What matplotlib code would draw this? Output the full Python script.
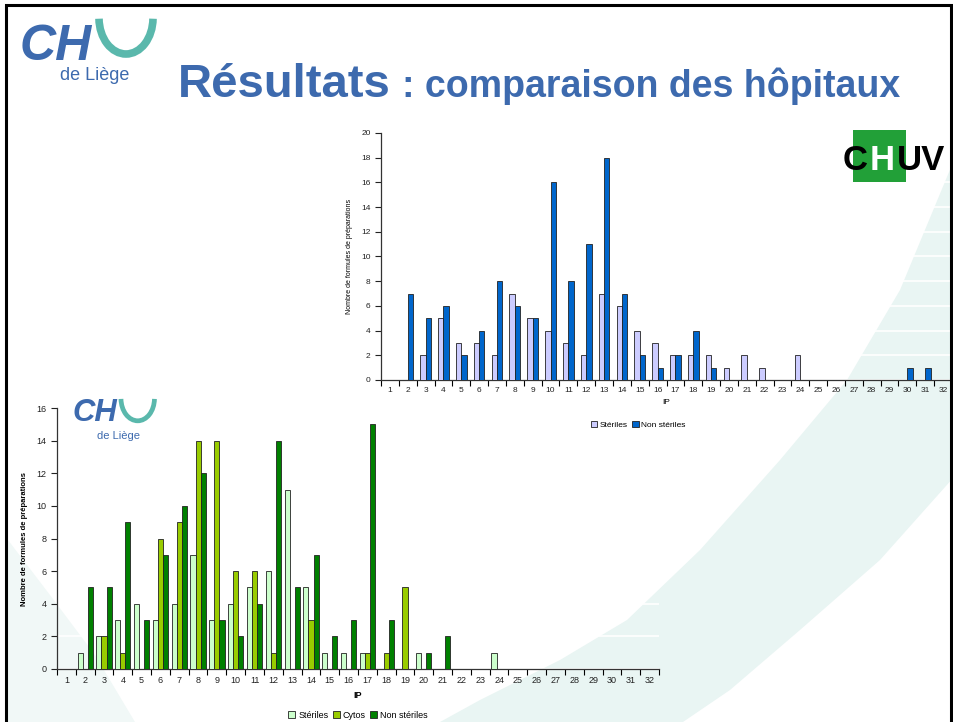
import matplotlib
matplotlib.use("Agg")
import matplotlib.pyplot as plt
import numpy as np
from matplotlib.patches import Polygon, Rectangle, Arc

plt.rcParams['font.family'] = ['Liberation Sans', 'DejaVu Sans']

# ---------------- data ----------------
ip = list(range(1, 33))
ip_labels = [str(i) for i in ip]

# CHUV (top chart)
chuv_steriles = [0, 0, 2, 5, 3, 3, 2, 7, 5, 4, 3, 2, 7, 6, 4, 3,
                 2, 2, 2, 1, 2, 1, 0, 2, 0, 0, 0, 0, 0, 0, 0, 0]
chuv_non_steriles = [0, 7, 5, 6, 2, 4, 8, 6, 5, 16, 8, 11, 18, 7, 2, 1,
                     2, 4, 1, 0, 0, 0, 0, 0, 0, 0, 0, 0, 0, 1, 1, 0]

# CHU de Liège (bottom chart)
liege_steriles = [0, 1, 2, 3, 4, 3, 4, 7, 3, 4, 5, 6, 11, 5, 1, 1,
                  1, 0, 0, 1, 0, 0, 0, 1, 0, 0, 0, 0, 0, 0, 0, 0]
liege_cytos = [0, 0, 2, 1, 0, 8, 9, 14, 14, 6, 6, 1, 0, 3, 0, 0,
               1, 1, 5, 0, 0, 0, 0, 0, 0, 0, 0, 0, 0, 0, 0, 0]
liege_non_steriles = [0, 5, 5, 9, 3, 7, 10, 12, 3, 2, 4, 14, 5, 7, 2, 3,
                      15, 3, 0, 1, 2, 0, 0, 0, 0, 0, 0, 0, 0, 0, 0, 0]

W, H = 954, 722
fig = plt.figure(figsize=(W / 100, H / 100), dpi=100)
fig.patch.set_facecolor('white')


def px(x, y):
    return (x / W, 1 - y / H)


# ---------------- background swoosh ----------------
band_color = '#e9f5f3'
upper = [(440, 722), (480, 700), (560, 660), (627, 620), (700, 550), (780, 460),
         (847, 380), (900, 290), (954, 160)]
lower = [(954, 477), (880, 560), (800, 630), (730, 690), (683, 722)]
fig.patches.append(Polygon([px(*p) for p in upper + lower], closed=True,
                           transform=fig.transFigure, facecolor=band_color,
                           edgecolor='none', zorder=-5))
fig.patches.append(Polygon([px(*p) for p in [(8, 540), (50, 595), (95, 655), (135, 722), (8, 722)]],
                           closed=True, transform=fig.transFigure, facecolor='#f1f8f7',
                           edgecolor='none', zorder=-5))

# slide border
fig.patches.append(Rectangle(px(6, 730), (951 - 6) / W, (730 - 5) / H,
                             transform=fig.transFigure, facecolor='none',
                             edgecolor='black', lw=2.2, zorder=5))

# ---------------- logos ----------------
blue = '#3d6aae'
teal = '#5ab8ac'


def chu_logo(x0, y0, s, ch_base, dl_base):
    fig.text(*px(x0, y0 + ch_base * s), 'CH', fontsize=36 * s, fontweight='bold',
             style='italic', color=blue, va='baseline', ha='left')
    cx, cy = px(x0 + 106 * s, y0 + 4 * s)
    fig.patches.append(Arc((cx, cy), 54 * s / W, 72 * s / H, theta1=182, theta2=358,
                           transform=fig.transFigure, color=teal, lw=5.5 * s))
    fig.text(*px(x0 + 40 * s, y0 + dl_base * s), 'de Liège', fontsize=13 * s,
             color=blue, va='baseline', ha='left')


chu_logo(20, 14, 1.0, 46, 66)
chu_logo(72, 396, 0.62, 40, 70)

# CHUV logo
fig.patches.append(Rectangle(px(853, 182), 53 / W, 52 / H, transform=fig.transFigure,
                             facecolor='#22a038', edgecolor='none', zorder=2))
fig.text(*px(843, 170), 'C', fontsize=25, fontweight='heavy', color='black',
         va='baseline', ha='left', zorder=3)
fig.text(*px(870, 170), 'H', fontsize=25, fontweight='heavy', color='white',
         va='baseline', ha='left', zorder=3)
fig.text(*px(897, 170), 'UV', fontsize=25, fontweight='heavy', color='black',
         va='baseline', ha='left', zorder=3)

# ---------------- title ----------------
fig.text(*px(178, 97), 'Résultats', fontsize=34, fontweight='bold', color=blue,
         va='baseline', ha='left')
fig.text(*px(402, 97), ': comparaison des hôpitaux', fontsize=27, fontweight='bold',
         color=blue, va='baseline', ha='left')

x = np.arange(1, 33)


def style_axes(ax, ymax, ystep, bold_labels, tick_fs, ylab_fs):
    ax.set_facecolor('none')
    ax.set_xlim(0.5, 32.5)
    ax.set_ylim(0, ymax)
    ax.set_yticks(np.arange(0, ymax + 1, ystep))
    ax.set_xticks(np.arange(0.5, 33, 1))
    ax.set_xticklabels([])
    ax.set_xticks(x, minor=True)
    ax.set_xticklabels(ip_labels, minor=True, fontsize=tick_fs, color='#222222')
    ax.tick_params(axis='x', which='minor', length=0, pad=5)
    ax.tick_params(axis='x', which='major', length=4, width=0.8, direction='out')
    ax.tick_params(axis='y', length=4, width=0.8, labelsize=tick_fs, colors='#222222')
    for sp in ['top', 'right']:
        ax.spines[sp].set_visible(False)
    for sp in ['left', 'bottom']:
        ax.spines[sp].set_linewidth(0.9)
        ax.spines[sp].set_color('#333333')
    ax.yaxis.grid(True, color='white', lw=1.2)
    ax.set_axisbelow(True)
    ax.set_ylabel('Nombre de formules de préparations', fontsize=ylab_fs,
                  fontweight='bold' if bold_labels else 'normal', labelpad=6)
    ax.set_xlabel('IP', fontsize=tick_fs, fontweight='bold' if bold_labels else 'normal',
                  labelpad=4)


# ---------------- top chart (CHUV) ----------------
ax1 = fig.add_axes([381 / W, 1 - 380 / H, 571 / W, 247 / H])
bw = 0.3
ax1.bar(x - bw / 2, chuv_steriles, bw, color='#ccccff', edgecolor='#222222', lw=0.6,
        label='Stériles', zorder=3)
ax1.bar(x + bw / 2, chuv_non_steriles, bw, color='#0066cc', edgecolor='#222222', lw=0.6,
        label='Non stériles', zorder=3)
style_axes(ax1, 20, 2, False, 6, 5)
ax1.legend(loc='upper center', bbox_to_anchor=(0.45, -0.135), ncol=2, frameon=False,
           fontsize=6, handlelength=0.8, handleheight=0.8, handletextpad=0.3,
           columnspacing=0.5)

# ---------------- bottom chart (CHU de Liège) ----------------
ax2 = fig.add_axes([57 / W, 1 - 669 / H, 602 / W, 261 / H])
bw2 = 0.27
ax2.bar(x - bw2, liege_steriles, bw2, color='#ccffcc', edgecolor='#222222', lw=0.6,
        label='Stériles', zorder=3)
ax2.bar(x, liege_cytos, bw2, color='#99cc00', edgecolor='#222222', lw=0.6,
        label='Cytos', zorder=3)
ax2.bar(x + bw2, liege_non_steriles, bw2, color='#008000', edgecolor='#222222', lw=0.6,
        label='Non stériles', zorder=3)
style_axes(ax2, 16, 2, True, 6.5, 5.5)
ax2.legend(loc='upper center', bbox_to_anchor=(0.5, -0.13), ncol=3, frameon=False,
           fontsize=6.5, handlelength=0.8, handleheight=0.8, handletextpad=0.3,
           columnspacing=0.5)

fig.savefig('out.png', dpi=100)
